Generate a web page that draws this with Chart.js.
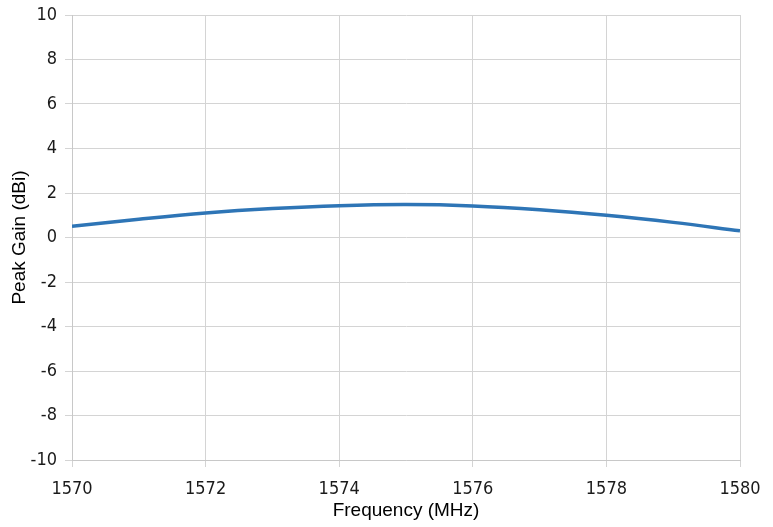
<!DOCTYPE html>
<html>
<head>
<meta charset="utf-8">
<script src="https://cdn.jsdelivr.net/npm/chart.js@4"></script>
<style>
  html, body { margin: 0; padding: 0; background: #fff; }
  #wrap { width: 773px; height: 527px; }
</style>
</head>
<body>
<div id="wrap"><canvas id="gain-chart" width="773" height="527"></canvas></div>
<script>
var freqs = [1570, 1571, 1572, 1573, 1574, 1575, 1576, 1577, 1578, 1579, 1580];
var gains = [0.5, 0.82, 1.1, 1.3, 1.43, 1.48, 1.42, 1.25, 1.0, 0.68, 0.3];
var xTicks = [1570, 1572, 1574, 1576, 1578, 1580];
var yTicks = [-10, -8, -6, -4, -2, 0, 2, 4, 6, 8, 10];

var tickFont = { family: "'DejaVu Sans Condensed', 'Liberation Sans Narrow', sans-serif", size: 18 };
var titleFont = { family: "'Liberation Sans', Arial, sans-serif", size: 19 };

var ctx = document.getElementById('gain-chart').getContext('2d');
var chart = new Chart(ctx, {
    type: 'line',
    data: {
        datasets: [{
            label: 'Peak Gain',
            data: freqs.map(function (f, i) { return { x: f, y: gains[i] }; }),
            borderColor: '#2e75b6',
            borderWidth: 3.5,
            pointRadius: 0,
            tension: 0.4,
            fill: false
        }]
    },
    options: {
        responsive: false,
        animation: false,
        layout: { padding: { left: 0, right: 33, top: 15, bottom: 0 } },
        plugins: {
            legend: { display: false },
            tooltip: { enabled: false }
        },
        scales: {
            x: {
                type: 'linear',
                min: 1570,
                max: 1580,
                afterBuildTicks: function (scale) {
                    scale.ticks = xTicks.map(function (v) { return { value: v }; });
                },
                afterFit: function (scale) {
                    scale.height = 67;
                    scale.paddingRight = 0;
                },
                grid: { color: '#d4d4d4', tickLength: 7, drawTicks: true },
                border: { color: '#c8c8c8' },
                ticks: {
                    color: '#1a1a1a', font: tickFont, padding: 12, maxRotation: 0,
                    callback: function (v) { return String(v); }
                },
                title: {
                    display: true,
                    text: 'Frequency (MHz)',
                    color: '#000',
                    font: titleFont,
                    padding: { top: 0, bottom: 5 }
                }
            },
            y: {
                min: -10,
                max: 10,
                afterBuildTicks: function (scale) {
                    scale.ticks = yTicks.map(function (v) { return { value: v }; });
                },
                afterFit: function (scale) {
                    scale.width = 72;
                    scale.paddingTop = 0;
                },
                grid: { color: '#d4d4d4', tickLength: 7 },
                border: { color: '#c8c8c8' },
                ticks: { color: '#1a1a1a', font: tickFont, padding: 8 },
                title: {
                    display: true,
                    text: 'Peak Gain (dBi)',
                    color: '#000',
                    font: titleFont,
                    padding: { top: 8, bottom: 0 }
                }
            }
        }
    }
});
</script>
</body>
</html>
